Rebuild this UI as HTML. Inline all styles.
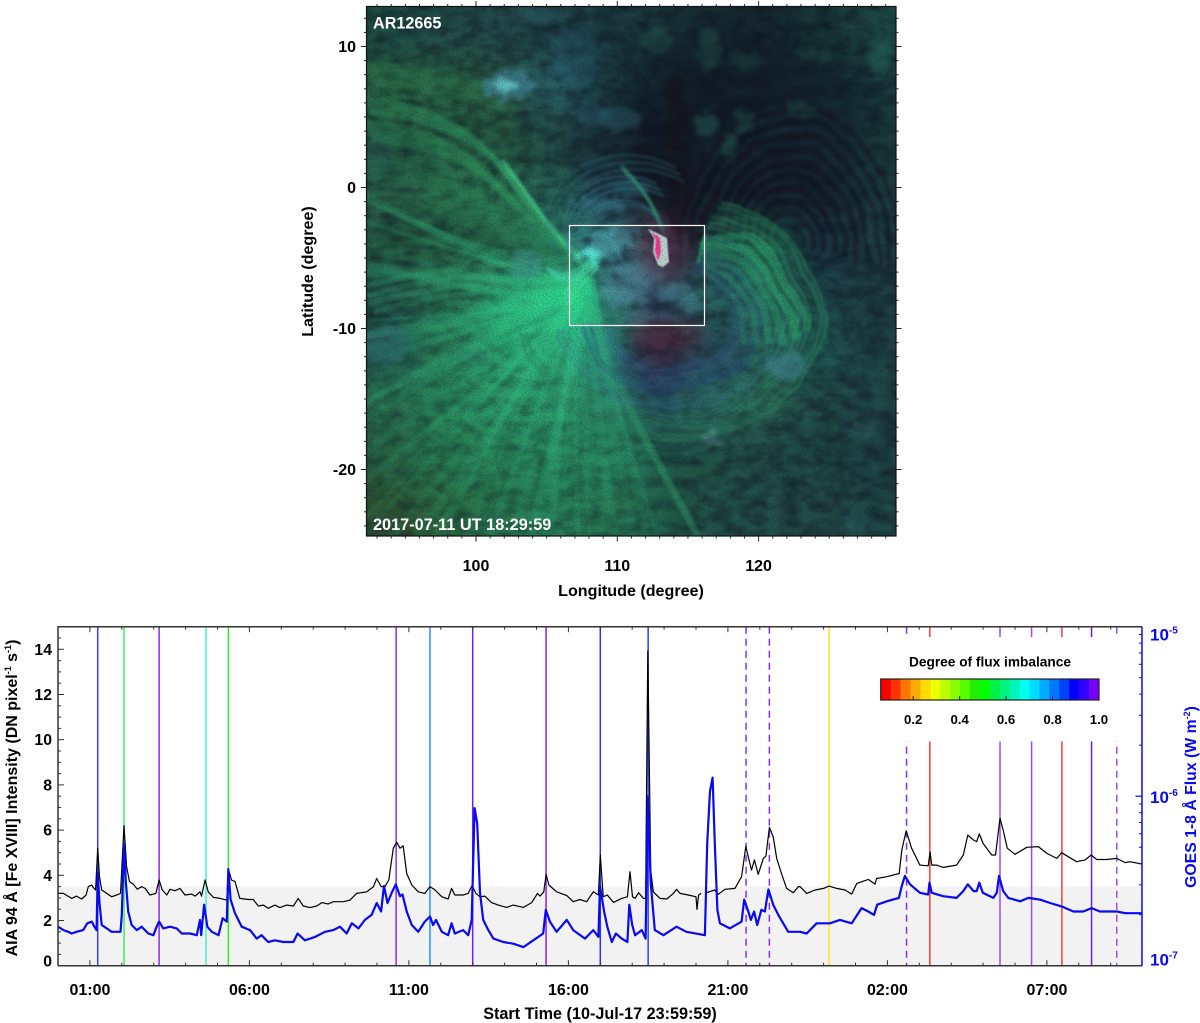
<!DOCTYPE html>
<html lang="en">
<head>
<meta charset="utf-8">
<title>AR12665 flux imbalance and light curves</title>
<style>
html,body{margin:0;padding:0;background:#fff;}
svg{display:block;font-family:"Liberation Sans",Arial,sans-serif;font-weight:bold;}
</style>
</head>
<body>
<svg id="fig" xmlns="http://www.w3.org/2000/svg" width="1200" height="1023" viewBox="0 0 1200 1023">
  <defs>
    <clipPath id="imgClip"><rect x="366.5" y="6.5" width="529.5" height="529.5"/></clipPath>
    <clipPath id="plotClip"><rect x="58" y="626.7" width="1084" height="339"/></clipPath>
    <filter id="blurBase" x="-20%" y="-20%" width="140%" height="140%" color-interpolation-filters="sRGB"><feGaussianBlur stdDeviation="15"/></filter>
    <filter id="blur1" x="-20%" y="-20%" width="140%" height="140%" color-interpolation-filters="sRGB"><feGaussianBlur stdDeviation="1.3"/></filter>
    <filter id="blurSharp" x="-20%" y="-20%" width="140%" height="140%" color-interpolation-filters="sRGB"><feGaussianBlur stdDeviation=".6"/></filter>
    <filter id="blur8" x="-50%" y="-50%" width="200%" height="200%" color-interpolation-filters="sRGB"><feGaussianBlur stdDeviation="8"/></filter>
    <filter id="blur30" x="-50%" y="-50%" width="200%" height="200%" color-interpolation-filters="sRGB"><feGaussianBlur stdDeviation="28"/></filter>
    <filter id="wobble" x="-10%" y="-10%" width="120%" height="120%" color-interpolation-filters="sRGB">
      <feTurbulence type="fractalNoise" baseFrequency="0.02" numOctaves="2" seed="7" result="n"/>
      <feDisplacementMap in="SourceGraphic" in2="n" scale="16" xChannelSelector="R" yChannelSelector="G"/>
      <feGaussianBlur stdDeviation="1.2"/>
    </filter>
    <filter id="rough" x="-20%" y="-20%" width="140%" height="140%" color-interpolation-filters="sRGB">
      <feTurbulence type="fractalNoise" baseFrequency="0.11" numOctaves="3" seed="3" result="n"/>
      <feDisplacementMap in="SourceGraphic" in2="n" scale="20" xChannelSelector="R" yChannelSelector="G"/>
      <feGaussianBlur stdDeviation="2"/>
    </filter>
    <filter id="grain" x="0" y="0" width="100%" height="100%" color-interpolation-filters="sRGB">
      <feTurbulence type="fractalNoise" baseFrequency="0.85" numOctaves="2" seed="4"/>
      <feColorMatrix type="matrix" values="0 0 0 0 0.05  0 0 0 0 0.1  0 0 0 0 0.12  1.6 0 0 0 -0.55"/>
    </filter>
    <filter id="mottle" x="0" y="0" width="100%" height="100%" color-interpolation-filters="sRGB">
      <feTurbulence type="fractalNoise" baseFrequency="0.06 0.09" numOctaves="4" seed="11"/>
      <feColorMatrix type="matrix" values="0 0 0 0 0.05  0 0 0 0 0.06  0 0 0 0 0.11  1.5 0 0 0 -0.5"/>
    </filter>
    <filter id="mottleLight" x="0" y="0" width="100%" height="100%" color-interpolation-filters="sRGB">
      <feTurbulence type="fractalNoise" baseFrequency="0.05 0.08" numOctaves="4" seed="23"/>
      <feColorMatrix type="matrix" values="0 0 0 0 0.2  0 0 0 0 0.48  0 0 0 0 0.42  1.3 0 0 0 -0.5"/>
    </filter>
    <radialGradient id="fanGrad" gradientUnits="userSpaceOnUse" cx="580" cy="290" r="340">
      <stop offset="0" stop-color="#30e89a" stop-opacity=".7"/>
      <stop offset=".4" stop-color="#35c888" stop-opacity=".38"/>
      <stop offset="1" stop-color="#2fa070" stop-opacity=".18"/>
    </radialGradient>
  </defs>

  <g id="imagePanel" clip-path="url(#imgClip)">
    <rect x="366" y="6" width="531" height="531" fill="#1f4a48"/>
    <g id="imageBase" filter="url(#blurBase)"></g>
    <rect x="366" y="6" width="531" height="531" filter="url(#mottleLight)" opacity=".36"/>
    <rect x="366" y="6" width="531" height="531" filter="url(#mottle)" opacity=".65"/>
    <ellipse cx="745" cy="125" rx="150" ry="105" fill="#0e1420" opacity=".5" filter="url(#blur30)"/>
    <g id="imageDark" filter="url(#wobble)"></g>
    <path d="M585 280L366 340L366 536L690 536Z" fill="url(#fanGrad)" opacity=".55" filter="url(#blur8)"/>
    <ellipse cx="560" cy="320" rx="70" ry="52" fill="#2fd890" opacity=".3" filter="url(#blur8)"/>
    <g id="imageFan" filter="url(#blur1)"></g>
    <g id="imageLoops" filter="url(#wobble)"></g>
    <g id="imagePatches" filter="url(#rough)"></g>
    <g>
      <ellipse cx="664" cy="252" rx="22" ry="30" fill="#5a2040" opacity=".5" filter="url(#blur8)"/>
      <ellipse cx="668" cy="335" rx="38" ry="13" fill="#702038" opacity=".4" filter="url(#blur8)"/>
      <path d="M648 229 L657 233 L667 238 L669 262 L663 267 L658 265 L653 252 L654 238 Z" fill="#c8e0d8" filter="url(#blurSharp)"/>
      <path d="M652 232 L660 238 L661 252 L658 261 L655 250 L656 240 Z" fill="#ff3c98" filter="url(#blurSharp)"/>
    </g>
    <rect x="366" y="6" width="531" height="531" filter="url(#grain)" opacity=".45"/>
    <rect x="569.5" y="225.5" width="135" height="100" fill="none" stroke="#fff" stroke-width="1.2"/>
    <text x="373" y="28.5" fill="#fff" font-size="16.2">AR12665</text>
    <text x="373" y="530" fill="#fff" font-size="16.3">2017-07-11 UT 18:29:59</text>
  </g>
  <rect x="366.5" y="6.5" width="529.5" height="529.5" fill="none" stroke="#111" stroke-width="1.2"/>
  <g id="imageAxes" stroke="#222" fill="#000"></g>
  <text x="631" y="596" text-anchor="middle" font-size="16.1">Longitude (degree)</text>
  <text transform="translate(313,271.5) rotate(-90)" text-anchor="middle" font-size="16.1">Latitude (degree)</text>

  <g id="lightCurve">
    <rect x="58" y="886.6" width="1084" height="79.1" fill="#f2f2f2"/>
    <g id="eventLines" clip-path="url(#plotClip)"></g>
    <rect x="868" y="637" width="252" height="104.5" fill="#fff"/>
    <path id="aiaLine" fill="none" stroke="#000" stroke-width="1.2" stroke-linejoin="round" clip-path="url(#plotClip)"/>
    <path id="goesLine" fill="none" stroke="#0a0af0" stroke-width="2.2" stroke-linejoin="round" clip-path="url(#plotClip)"/>
    <g id="chartAxes"></g>
    <g id="colorbar"></g>
    <text x="990" y="666.5" text-anchor="middle" font-size="13.7">Degree of flux imbalance</text>
    <text x="600" y="1019" text-anchor="middle" font-size="16.2">Start Time (10-Jul-17 23:59:59)</text>
    <text transform="translate(17,798) rotate(-90)" text-anchor="middle" font-size="16">AIA 94 Å [Fe XVIII] Intensity (DN pixel<tspan font-size="9" dy="-6">-1</tspan><tspan dy="6"> s</tspan><tspan font-size="9" dy="-6">-1</tspan><tspan dy="6">)</tspan></text>
    <text transform="translate(1196,797) rotate(-90)" text-anchor="middle" font-size="15.8" fill="#0a0af0">GOES 1-8 Å Flux (W m<tspan font-size="9" dy="-6">-2</tspan><tspan dy="6">)</tspan></text>
  </g>
</svg>

<script>
// ---------- light-curve data ----------
const aiaTimes = [0,.17,.43,.58,.74,.88,.95,1.06,1.1,1.18,1.245,1.3,1.37,1.53,1.68,1.84,1.96,2.07,2.15,2.24,2.36,2.49,2.62,2.73,2.88,3.07,3.17,3.27,3.41,3.51,3.67,3.82,3.98,4.19,4.3,4.45,4.5,4.61,4.71,4.87,5.08,5.29,5.34,5.44,5.55,5.7,5.97,6.12,6.28,6.44,6.59,6.8,6.96,7.17,7.38,7.53,7.69,7.9,8.11,8.27,8.47,8.63,8.94,9.15,9.36,9.68,9.89,9.99,10.13,10.25,10.37,10.51,10.62,10.72,10.82,10.93,11.09,11.29,11.5,11.66,11.82,12.03,12.23,12.34,12.44,12.7,12.86,12.98,13.1,13.23,13.38,13.59,13.8,14.06,14.27,14.59,14.85,15.03,15.11,15.23,15.3,15.39,15.63,15.95,16.15,16.36,16.57,16.78,16.94,17.0,17.09,17.22,17.41,17.67,17.85,17.93,18.01,18.09,18.2,18.35,18.42,18.49,18.58,18.66,18.87,19.08,19.29,19.39,19.5,19.76,20.0,20.03,20.08,20.16,20.25,20.33,20.59,20.7,20.91,21.22,21.43,21.56,21.74,21.83,21.95,22.11,22.19,22.3,22.42,22.53,22.68,22.84,23.05,23.21,23.26,23.47,23.73,24.0,24.17,24.41,24.67,24.88,25.04,25.4,25.61,25.66,25.98,26.37,26.45,26.59,26.76,27.02,27.28,27.34,27.39,27.54,27.75,28.17,28.38,28.52,28.7,28.8,28.88,29.0,29.27,29.39,29.53,29.63,29.76,30,30.37,30.73,31,31.31,31.46,31.93,32.2,32.39,32.56,32.87,33.19,33.45,33.6,33.98];
const aiaIntensity = [3.2,3.2,2.98,3.08,2.95,3.13,3.5,3.57,3.47,3.35,5.2,3.94,3.35,3.2,3.05,3.13,3.2,6.2,4.38,3.72,3.6,3.38,3.5,3.42,3.13,3.2,3.79,3.35,3.13,3.38,3.32,3.42,3.13,3.17,3.08,3.27,3.08,3.79,3.27,3.02,2.98,2.9,4.3,3.79,3.72,2.98,2.93,2.93,2.64,2.68,2.54,2.68,2.57,2.68,2.64,2.98,2.64,2.57,2.64,2.79,2.73,2.83,2.83,2.9,3.2,3.27,3.5,3.86,3.5,3.5,3.79,5.2,5.46,5.2,5.3,4.08,3.57,3.27,3.2,3.5,3.35,3.05,2.95,3.42,3.13,3.13,3.2,3.55,3.2,3.05,3.08,2.79,2.68,2.58,2.68,2.58,2.79,3.2,3.08,3.27,4.04,3.57,3.27,3.1,2.83,2.93,2.83,3.27,3.13,4.9,3.05,3.13,2.8,2.98,3.05,4.16,3.05,2.98,3.23,2.98,2.98,13.94,4.23,3.27,2.98,2.95,3.2,3.38,3.2,3.13,3.05,2.49,3.13,3.2,null,3.23,3.35,3.16,3.38,3.42,3.94,5.27,4.23,4.68,4.04,4.75,4.85,6.12,5.7,4.75,4.08,3.42,3.23,3.5,3.5,3.2,3.35,3.42,3.52,3.42,3.35,3.17,3.64,3.82,3.61,3.86,3.94,4.08,5.12,5.97,5.2,4.45,4.42,5.04,4.45,4.45,4.35,4.45,4.9,5.78,5.56,5.49,5.83,5.41,4.9,4.9,6.52,6.0,5.2,4.93,5.24,5.27,4.97,4.75,5.0,4.6,4.68,4.9,4.7,4.7,4.75,4.56,4.6,4.5];
const goesTimes = [0,.17,.32,.43,.58,.79,.92,1.06,1.14,1.21,1.245,1.3,1.37,1.53,1.68,1.84,1.96,2.0,2.07,2.13,2.2,2.31,2.47,2.62,2.83,2.99,3.09,3.17,3.3,3.51,3.72,3.88,4.14,4.35,4.45,4.49,4.58,4.68,4.82,5.03,5.16,5.29,5.34,5.41,5.55,5.76,6.02,6.23,6.38,6.59,6.8,7.06,7.38,7.51,7.74,8.06,8.37,8.63,8.84,9.05,9.21,9.42,9.62,9.83,9.99,10.13,10.22,10.33,10.46,10.59,10.72,10.8,10.93,11.09,11.29,11.5,11.66,11.76,11.85,12.03,12.23,12.34,12.44,12.7,12.86,12.97,13.06,13.14,13.23,13.33,13.49,13.65,13.96,14.27,14.59,14.9,15.21,15.29,15.42,15.63,15.95,16.15,16.52,16.78,16.94,16.99,17.12,17.22,17.36,17.49,17.67,17.85,17.91,18.0,18.09,18.3,18.42,18.49,18.58,18.71,18.98,19.39,19.7,20.28,20.35,20.44,20.52,20.59,20.67,20.75,21.06,21.43,21.51,21.64,21.72,21.82,21.92,22.05,22.16,22.27,22.42,22.58,22.89,23.26,23.47,23.78,24.2,24.51,24.88,25.19,25.4,25.58,25.68,25.98,26.36,26.45,26.55,26.71,27.02,27.28,27.32,27.39,27.75,28.17,28.38,28.52,28.7,28.8,28.88,28.99,29.32,29.43,29.5,29.63,29.79,30.16,30.42,30.78,31.1,31.46,31.83,32.14,32.4,32.66,33.19,33.45,33.98];
const goesLogFlux = [-6.77,-6.79,-6.8,-6.81,-6.8,-6.79,-6.75,-6.74,-6.77,-6.79,-6.45,-6.63,-6.76,-6.78,-6.8,-6.8,-6.8,-6.7,-6.28,-6.51,-6.68,-6.76,-6.79,-6.77,-6.81,-6.82,-6.77,-6.74,-6.78,-6.77,-6.78,-6.81,-6.81,-6.82,-6.73,-6.82,-6.64,-6.77,-6.8,-6.82,-6.72,-6.74,-6.43,-6.61,-6.69,-6.77,-6.79,-6.84,-6.82,-6.86,-6.85,-6.86,-6.86,-6.81,-6.85,-6.83,-6.8,-6.79,-6.77,-6.81,-6.75,-6.78,-6.73,-6.7,-6.63,-6.68,-6.53,-6.63,-6.57,-6.52,-6.59,-6.58,-6.68,-6.76,-6.8,-6.74,-6.71,-6.76,-6.73,-6.8,-6.82,-6.75,-6.81,-6.79,-6.82,-6.73,-6.07,-6.16,-6.57,-6.73,-6.79,-6.84,-6.86,-6.87,-6.89,-6.85,-6.81,-6.67,-6.74,-6.8,-6.73,-6.79,-6.84,-6.79,-6.83,-6.53,-6.68,-6.77,-6.86,-6.81,-6.84,-6.86,-6.64,-6.76,-6.82,-6.79,-6.84,-6.0,-6.51,-6.79,-6.82,-6.77,-6.8,-6.82,-6.28,-5.97,-5.89,-6.28,-6.67,-6.75,-6.78,-6.74,-6.61,-6.68,-6.73,-6.68,-6.76,-6.67,-6.68,-6.55,-6.64,-6.7,-6.8,-6.8,-6.81,-6.75,-6.75,-6.73,-6.75,-6.66,-6.68,-6.7,-6.64,-6.62,-6.6,-6.53,-6.47,-6.52,-6.57,-6.58,-6.51,-6.57,-6.59,-6.6,-6.56,-6.52,-6.56,-6.56,-6.51,-6.57,-6.6,-6.57,-6.47,-6.56,-6.6,-6.62,-6.6,-6.61,-6.63,-6.65,-6.68,-6.68,-6.66,-6.68,-6.68,-6.69,-6.69];
const eventTimes = [1.245,2.07,3.17,4.64,5.34,10.6,11.66,13.0,15.3,17.0,18.5,21.57,22.3,24.17,26.6,27.33,29.53,30.52,31.47,32.4,33.19];
const eventColors = ["#3c3cf5","#3cf060","#8a2cf0","#40f5c4","#2cf028","#8a2cf0","#1e90ff","#7020f0","#8a20f0","#3030f5","#2a40f5","#8a2cf5","#8a2cf5","#ffe22e","#8a2cf5","#f53a3a","#9a4cf5","#9a4cf5","#f54040","#6a20e0","#9a4cf5"];
const eventDashed = [0,0,0,0,0,0,0,0,0,0,0,1,1,0,1,0,0,0,0,0,1];
const intensityTicks = [0,2,4,6,8,10,12,14];
const timeTickHours = [1,6,11,16,21,26,31];
const timeTickLabels = ["01:00","06:00","11:00","16:00","21:00","02:00","07:00"];
const fluxExponents = [-5,-6,-7];
const colorbarColors = ["#ff0000","#ff3300","#ff7700","#ffaa00","#ffdd00","#eeff00","#bbff00","#88ff00","#55ff00","#22f000","#00ff00","#00f044","#00f580","#00f5bb","#00ffee","#00ddff","#00aaff","#0077ff","#0044ff","#0000ff","#3300ff","#7700ff"];
const colorbarTicks = [0.2,0.4,0.6,0.8,1.0];
const longitudeTicks = [100,110,120];
const latitudeTicks = [10,0,-10,-20];

// ---------- image colour estimate (10 x 10 coarse cells) ----------
const imageCells = [
 ["#1f4f45","#24504a","#244a4c","#1e4048","#1d3d45","#1c3a40","#1a3038","#1a2c35","#1b3a3c","#1e4a44"],
 ["#2a6a45","#2a6a48","#2a5f45","#2f6a70","#1f4a50","#1a3035","#16242e","#1a2a38","#1c3a40","#1e4a4a"],
 ["#245a40","#2a6a48","#2a6045","#244f48","#1e3f48","#181c28","#1a2a32","#1a2a38","#1a3040","#204a48"],
 ["#2a5a48","#2d7a50","#2f8058","#2a6a5a","#253a50","#191c28","#18202c","#1a2030","#1a2335","#1f4045"],
 ["#245a44","#2a6a4c","#2f7a58","#2f9070","#3a8a90","#5a5a70","#1a2028","#1f7a58","#1a3040","#1e3a42"],
 ["#22504a","#2a7a55","#30a070","#3ab088","#406a78","#40607a","#2a6a68","#2a7a5a","#1e4a50","#1e3e45"],
 ["#245a50","#2a7a50","#2fa070","#2fa878","#2a7a70","#402a48","#2a5060","#2a7058","#22605a","#1f4448"],
 ["#2a6a4a","#2a8a58","#2f9a68","#2fa070","#2a8068","#1f4058","#2a6a60","#2a6a58","#235048","#1f4448"],
 ["#2a6040","#2a7a4c","#2a8a58","#2a9060","#2a8a60","#22604f","#245a4a","#245048","#1f4a45","#1f4448"],
 ["#34502a","#2f6a3a","#2a7a4c","#2a8558","#2a7a55","#225a48","#245548","#24504a","#244a48","#204a48"]
];

// ---------- helpers ----------
const SVGNS = "http://www.w3.org/2000/svg";
function mk(tag, attrs, parent){
  const node = document.createElementNS(SVGNS, tag);
  for (const k in attrs) node.setAttribute(k, attrs[k]);
  parent.appendChild(node);
  return node;
}
const $ = id => document.getElementById(id);
// chart axis functions
const xTime = t => 58 + t * 31.9;
const yIntensity = v => 965.7 - v * 22.6;
const yFlux = lf => 965.7 - (lf + 7) * 169.5;
const xCbar = v => 880.7 + (v - 0.06) * 232.2;
// image axis functions
const xLon = d => 476 + (d - 100) * 14.13;
const yLat = d => 187.5 - d * 14.1;

function linePath(xs, ys, fx, fy){
  let d = "", pen = false;
  xs.forEach((t, i) => {
    if (ys[i] === null || ys[i] === undefined) { pen = false; return; }
    d += (pen ? "L" : "M") + fx(t).toFixed(1) + " " + fy(ys[i]).toFixed(1);
    pen = true;
  });
  return d;
}

// ---------- series ----------
$("aiaLine").setAttribute("d", linePath(aiaTimes, aiaIntensity, xTime, yIntensity));
$("goesLine").setAttribute("d", linePath(goesTimes, goesLogFlux, xTime, yFlux));

eventTimes.forEach((t, i) => {
  const x = xTime(t);
  const el = mk("line", {x1:x, x2:x, y1:626.7, y2:965.7, stroke:eventColors[i], "stroke-width":1.5,
    "stroke-dasharray": eventDashed[i] ? "7 5" : "none"}, $("eventLines"));
  
  
});

// ---------- chart axes ----------
const axes = $("chartAxes");
function tick(parent, x1, y1, x2, y2, color, w){
  const el = mk("line", {x1, y1, x2, y2, stroke:color, "stroke-width":w}, parent);
  
  
  return el;
}
for (let h = 1; h <= 33; h++){
  const x = xTime(h), major = timeTickHours.includes(h), len = major ? 5.5 : 3;
  tick(axes, x, 965.7, x, 965.7 - len, "#333", 1);
  tick(axes, x, 626.7, x, 626.7 + len, "#333", 1);
}
timeTickHours.forEach((h, i) => {
  const el = mk("text", {x:xTime(h), y:995, "text-anchor":"middle", "font-size":16}, axes);
  
  
  el.textContent = timeTickLabels[i];
});
for (let v = 0.5; v < 15; v += 0.5){
  const major = Number.isInteger(v / 2);
  tick(axes, 58, yIntensity(v), 58 + (major ? 6 : 3), yIntensity(v), "#333", 1);
}
intensityTicks.forEach(v => {
  const el = mk("text", {x:52, y:yIntensity(v) + 5.5 - (v === 0 ? 4.5 : 0), "text-anchor":"end", "font-size":15.8}, axes);
  
  
  el.textContent = String(v);
});
for (let e = -7; e < -5; e++){
  for (let m = 2; m <= 9; m++){
    const y = yFlux(e + Math.log10(m));
    tick(axes, 1142, y, 1139, y, "#0a0af0", 1);
  }
}
fluxExponents.forEach(e => {
  const y = yFlux(e);
  tick(axes, 1142, y, 1135.5, y, "#0a0af0", 1.2);
  const el = mk("text", {x:1150, y:y + (e + 7) * 7, fill:"#0a0af0", "font-size":17}, axes);
  
  
  el.textContent = "10";
  const sup = mk("tspan", {"font-size":10, dy:-7}, el);
  sup.textContent = String(e);
});
const frameParts = [["M58 965.7V626.7H1142","#333"],["M58 965.7H1142","#333"],["M1142 626.7V965.7","#0a0af0"]];
frameParts.forEach(p => {
  const el = mk("path", {d:p[0], fill:"none", stroke:p[1], "stroke-width":1.5}, axes);
  
  
});

// ---------- colorbar ----------
const cb = $("colorbar"), cw = (1099 - 880.7) / colorbarColors.length;
colorbarColors.forEach((c, i) => {
  const el = mk("rect", {x:880.7 + i * cw, y:679, width:cw + .4, height:21, fill:c}, cb);
  
  
});
const cbFrame = mk("rect", {x:880.7, y:679, width:218.3, height:21, fill:"none", stroke:"#222", "stroke-width":1.2}, cb);


colorbarTicks.forEach(v => {
  const x = xCbar(v);
  tick(cb, x, 700, x, 696, "#222", 1);
  const el = mk("text", {x, y:724, "text-anchor":"middle", "font-size":13.2}, cb);
  
  
  el.textContent = v.toFixed(1);
});

// ---------- image axes ----------
const ia = $("imageAxes");
for (let d = 93; d <= 129; d++){
  const x = xLon(d), major = d % 10 === 0, len = major ? 5.5 : 2.5;
  tick(ia, x, 536, x, 536 + len, "#222", 1);
  tick(ia, x, 6.5, x, 6.5 - len, "#222", 1);
}
for (let d = -24; d <= 12; d++){
  const y = yLat(d), major = d % 10 === 0, len = major ? 5.5 : 2.5;
  tick(ia, 366.5, y, 366.5 - len, y, "#222", 1);
  tick(ia, 896, y, 896 + len, y, "#222", 1);
}
longitudeTicks.forEach(d => {
  const el = mk("text", {x:xLon(d), y:571, "text-anchor":"middle", "font-size":16, stroke:"none"}, ia);
  
  
  el.textContent = String(d);
});
latitudeTicks.forEach(d => {
  const el = mk("text", {x:356, y:yLat(d) + 5.5, "text-anchor":"end", "font-size":16, stroke:"none"}, ia);
  
  
  el.textContent = String(d);
});

// ---------- image painting ----------
const base = $("imageBase"), cs = 53;
imageCells.forEach((row, r) => row.forEach((c, k) => {
  const ext = 40;
  const x = 366 + k * cs - (k === 0 ? ext : 0);
  const y = 6 + r * cs - (r === 0 ? ext : 0);
  const w = cs + (k === 0 || k === 9 ? ext : 0) + .5;
  const h = cs + (r === 0 || r === 9 ? ext : 0) + .5;
  const el = mk("rect", {x, y, width:w, height:h, fill:c}, base);
  
  
}));

// broad fan filaments from the western footpoint
const fanFil = $("imageFan");
for (let i = 0, a = 70; a <= 210; a += 2.2 + 1.4 * Math.abs(Math.sin(i * 1.9)), i++){
  const rad = a * Math.PI / 180, fx = 584 + 8 * Math.sin(i * .7), fy = 292 + 14 * Math.cos(i * 1.1), L = 470;
  const ex = fx + L * Math.cos(rad), ey = fy + L * Math.sin(rad);
  const bend = a < 120 ? 16 : (a > 165 ? -22 : 0);
  const mx = (fx + ex) / 2 - bend * Math.sin(rad), my = (fy + ey) / 2 + bend * Math.cos(rad);
  const el = mk("path", {d:`M${fx} ${fy}Q${mx} ${my} ${ex} ${ey}`, fill:"none", stroke:"url(#fanGrad)",
    "stroke-width":(2 + 6.5 * Math.abs(Math.sin(i * 2.7))).toFixed(2), opacity:((a < 88 ? .2 : .32) + .42 * Math.abs(Math.sin(i * 1.3))).toFixed(2)}, fanFil);
  
  
}
// curved green bundles: [path, strands, spread, width, colour, opacity]
const fanStreams = [
 ["M585 262C540 230 520 190 500 165C470 130 420 110 366 105",4,5,5,"#38b070",.3],
 ["M580 258C530 225 510 195 480 170C450 145 410 135 366 130",4,6,5.5,"#35a868",.3],
 ["M575 262C530 235 490 205 450 190C420 175 395 170 366 175",4,7,6,"#2f9860",.26],
 ["M572 265C540 250 500 235 460 215C420 200 395 200 366 205",3,8,6,"#2f8a58",.24],
 ["M560 262C530 250 480 248 440 250C410 250 390 250 366 255",3,8,5,"#2f8a58",.22],
 ["M505 165C530 195 540 220 578 257",3,5,4,"#48d890",.42],
 ["M366 72C420 78 470 90 500 100",4,7,7,"#3a9a58",.2],
 ["M366 300C430 282 500 276 575 272",4,8,6,"#38b078",.3],
 ["M590 300C600 360 640 430 700 540",4,9,7,"#38b078",.16],
 ["M622 168C640 185 655 205 662 230",2,4,3.5,"#3ab080",.5],
 ["M548 270C565 285 585 272 600 254",3,3,2.5,"#48f0c0",.65],
 ["M566 300C578 280 590 270 596 262",3,4,3,"#48f0a8",.65],
 ["M590 262C560 225 600 195 640 205C665 215 670 240 660 270",2,4,2.5,"#3f8fa0",.4],
 ["M575 260C545 205 610 165 660 190",3,6,2.5,"#3f8fa0",.42],
 ["M556 255C530 180 620 140 680 175",3,7,2.5,"#2f7a80",.35],
 ["M570 240C590 225 615 235 620 258",2,4,2,"#3fb0a8",.45]
];
fanStreams.forEach(s => {
  for (let k = 0; k < s[1]; k++){
    const off = (k - (s[1] - 1) / 2) * s[2];
    const el = mk("path", {d:s[0], fill:"none", stroke:s[4], "stroke-width":s[3], opacity:s[5], transform:`translate(${off * .6} ${off})`}, fanFil);
    
    
  }
});

// right-lobe loops
const lobeColors = ["#3a5f98","#3a70a0","#2f5f90","#3a8a88","#3a8a90","#3a9a78","#389a6c","#2f8a60"];
for (let i = 0, rx = 58; rx <= 152; rx += 5.5, i++){
  const cx = 672, cy = 318, ry = rx * .8, pts = [];
  for (let a = -72; a <= 178; a += 6){
    const rad = a * Math.PI / 180;
    pts.push((cx + rx * Math.cos(rad)).toFixed(1) + " " + (cy + ry * Math.sin(rad)).toFixed(1));
  }
  const el = mk("path", {d:"M" + pts.join("L"), fill:"none", stroke:lobeColors[Math.min(7, Math.floor((rx - 58) / 12))],
    "stroke-width":(2 + 2.2 * Math.abs(Math.sin(i * 1.7))).toFixed(2), opacity:(.22 + .3 * Math.abs(Math.sin(i * 2.3))).toFixed(2)}, $("imageLoops"));
  
  
}
const greenLobe = [["M702 245C740 215 790 250 805 335",8,"#30b874",.42],["M702 250C740 230 782 262 795 340",8,"#30c078",.48],["M702 258C735 240 772 272 783 345",8,"#30b878",.42],["M702 265C735 252 762 282 770 345",7,"#30b078",.38],["M702 270C730 264 752 292 758 345",6,"#2fa878",.36],["M702 276C725 276 742 302 746 345",5,"#2fa078",.32],["M702 228C760 195 820 255 825 345",5,"#30a070",.18],["M697 265C700 250 705 240 708 232",3.5,"#2fb078",.7]];
greenLobe.forEach(s => {
  const el = mk("path", {d:s[0], fill:"none", stroke:s[2], "stroke-width":s[1], opacity:s[3]}, $("imageLoops"));
  
  
});

// dark northern arcs with thin teal strands between
for (let i = 0, r = 14; r <= 112; r += 5.2, i++){
  const cx = 790, cy = 245, pts = [];
  for (let d = 178; d <= 372; d += 6){
    const rad = d * Math.PI / 180;
    pts.push((cx + r * Math.cos(rad)).toFixed(1) + " " + (cy + r * 1.25 * Math.sin(rad)).toFixed(1));
  }
  const dark = i % 2 === 0;
  const el = mk("path", {d:"M" + pts.join("L"), fill:"none", stroke:dark ? (i % 4 ? "#1c0c18" : "#100c1c") : "#2a5a60",
    "stroke-width":dark ? 4 : 1.6, opacity:dark ? .34 : .22}, $("imageDark"));
  
  
}
const darkBands = [["M677 85C672 130 680 175 682 225",20,"#1a1018",.42],["M705 115C760 95 820 85 880 90",12,"#101824",.3],["M640 150C650 185 668 205 680 225",7,"#1a1020",.35],["M560 165C590 135 630 125 660 135",10,"#181420",.25],["M700 60C750 45 790 60 830 70",10,"#101824",.25],["M620 280C640 300 670 315 700 318",9,"#181828",.3],["M420 130C450 120 480 125 510 135",9,"#17382f",.3],["M400 240C440 225 470 235 510 245",10,"#1c4030",.3]];
darkBands.forEach(s => {
  const el = mk("path", {d:s[0], fill:"none", stroke:s[2], "stroke-width":s[1], opacity:s[3], "stroke-linecap":"round"}, $("imageDark"));
  
  
});

// bright patches: [cx, cy, rx, ry, colour, opacity]
const patches = [
 [508,85,26,15,"#4f9ab8",.55],[505,85,11,6,"#70e0e0",.8],[525,265,16,14,"#4a9aa0",.45],
 [590,254,12,7,"#60f8e8",.95],[612,240,22,11,"#60b8c8",.5],[640,272,26,12,"#5fa8b8",.42],[625,292,26,14,"#5fb0c0",.42],[675,292,22,9,"#589aa8",.38],[598,205,26,8,"#3f8f9f",.42],[630,188,18,7,"#3a8a98",.35],[640,318,18,6,"#589aa8",.35],
 [690,305,12,8,"#58a0a8",.3],[787,366,20,13,"#4a90a8",.5],[712,440,7,6,"#70a8b0",.55],[620,120,22,12,"#3a7f90",.32],[575,60,24,30,"#2f6a80",.3],[540,15,30,8,"#3f7f88",.3],[590,115,16,10,"#3a7090",.28],
 [385,345,22,20,"#3a7090",.32],[380,150,14,22,"#2f6a70",.22],[470,355,20,8,"#3f7f90",.15],[710,50,12,20,"#2a6a58",.32],[707,125,12,12,"#2f7a70",.38],[745,120,10,12,"#2a6f60",.32],[800,108,16,8,"#2a6a58",.32],[815,55,18,7,"#2a6a58",.28],[745,60,20,9,"#2a6a58",.28],[880,55,12,20,"#2a7a6a",.4],[730,145,8,12,"#2f7a60",.38],[655,40,16,12,"#2a6a58",.32],[880,385,10,24,"#2a6a58",.32],[860,430,12,8,"#4a8a90",.28],[855,520,14,8,"#3a8a88",.32]
];
patches.forEach(p => {
  const el = mk("ellipse", {cx:p[0], cy:p[1], rx:p[2], ry:p[3], fill:p[4], opacity:p[5]}, $("imagePatches"));
  
  
});
</script>
</body>
</html>
